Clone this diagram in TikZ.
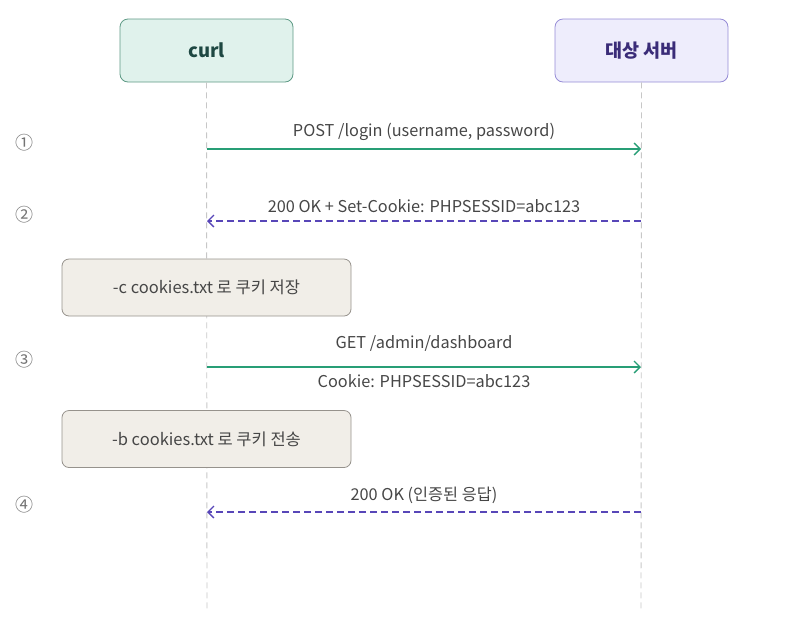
\documentclass[tikz,border=0pt]{standalone}
\usepackage{fontspec}
\setmainfont{Noto Sans CJK KR}
\usetikzlibrary{arrows.meta,positioning}
\definecolor{curlfill}{RGB}{224,242,236}
\definecolor{curldraw}{RGB}{94,154,133}
\definecolor{curltext}{RGB}{30,72,66}
\definecolor{srvfill}{RGB}{238,237,252}
\definecolor{srvdraw}{RGB}{150,140,214}
\definecolor{srvtext}{RGB}{58,44,120}
\definecolor{notefill}{RGB}{241,238,232}
\definecolor{notedraw}{RGB}{150,146,140}
\definecolor{reqcol}{RGB}{40,158,118}
\definecolor{respcol}{RGB}{88,70,184}
\definecolor{labcol}{RGB}{70,70,70}

\begin{document}
\begin{tikzpicture}[x=1pt,y=-1pt,
  actor/.style={draw,rounded corners=8pt,minimum width=173pt,minimum height=63pt,
    font=\fontsize{18.5}{22}\selectfont\bfseries,line width=0.8pt},
  lifeline/.style={draw=black!22,dashed,dash pattern=on 6pt off 4pt,line width=0.9pt},
  notebox/.style={draw=notedraw,fill=notefill,rounded corners=7pt,minimum width=289pt,
    minimum height=57pt,font=\fontsize{16.5}{19}\selectfont,text=labcol,line width=0.8pt},
  req/.style={draw=reqcol,line width=1.3pt,-{Straight Barb[length=6pt,width=12pt]}},
  resp/.style={draw=respcol,line width=1.3pt,dash pattern=on 7pt off 4pt,
    -{Straight Barb[length=6pt,width=12pt]}},
  lab/.style={font=\fontsize{16.3}{19}\selectfont,text=labcol},
  stepno/.style={font=\fontsize{18}{20}\selectfont,text=black!55}]

  \useasboundingbox (0,0) rectangle (811,625);

  % actors
  \node[actor,fill=curlfill,draw=curldraw,text=curltext] (curl) at (206.5,50.5) {curl};
  \node[actor,fill=srvfill,draw=srvdraw,text=srvtext] (srv) at (641.5,50.5) {대상 서버};

  % lifelines
  \coordinate (curlend) at (207,612);
  \coordinate (srvend) at (641,612);
  \draw[lifeline] (curl.south) -- (curlend);
  \draw[lifeline] (srv.south) -- (srvend);

  % messages
  \coordinate (c1) at (207,149); \coordinate (s1) at (641,149);
  \coordinate (c2) at (207,221); \coordinate (s2) at (641,221);
  \coordinate (c3) at (207,367); \coordinate (s3) at (641,367);
  \coordinate (c4) at (207,512); \coordinate (s4) at (641,512);

  \draw[req] (c1) -- node[lab,above=4pt] {POST /login (username, password)} (s1);
  \draw[resp] (s2) -- node[lab,above=4pt] {200 OK + Set-Cookie: PHPSESSID=abc123} (c2);
  \draw[req] (c3) -- node[lab,above=12pt] {GET /admin/dashboard}
    node[lab,below=4pt] {Cookie: PHPSESSID=abc123} (s3);
  \draw[resp] (s4) -- node[lab,above=4pt] {200 OK (인증된 응답)} (c4);

  % notes on curl side
  \node[notebox] (save) at (206.5,287.5) {-c cookies.txt 로 쿠키 저장};
  \node[notebox] (send) at (206.5,439) {-b cookies.txt 로 쿠키 전송};

  % step numbers
  \node[stepno] (n1) at (24,143) {①};
  \node[stepno] (n2) at (24,215) {②};
  \node[stepno] (n3) at (24,360) {③};
  \node[stepno] (n4) at (24,505) {④};

\end{tikzpicture}
\end{document}
